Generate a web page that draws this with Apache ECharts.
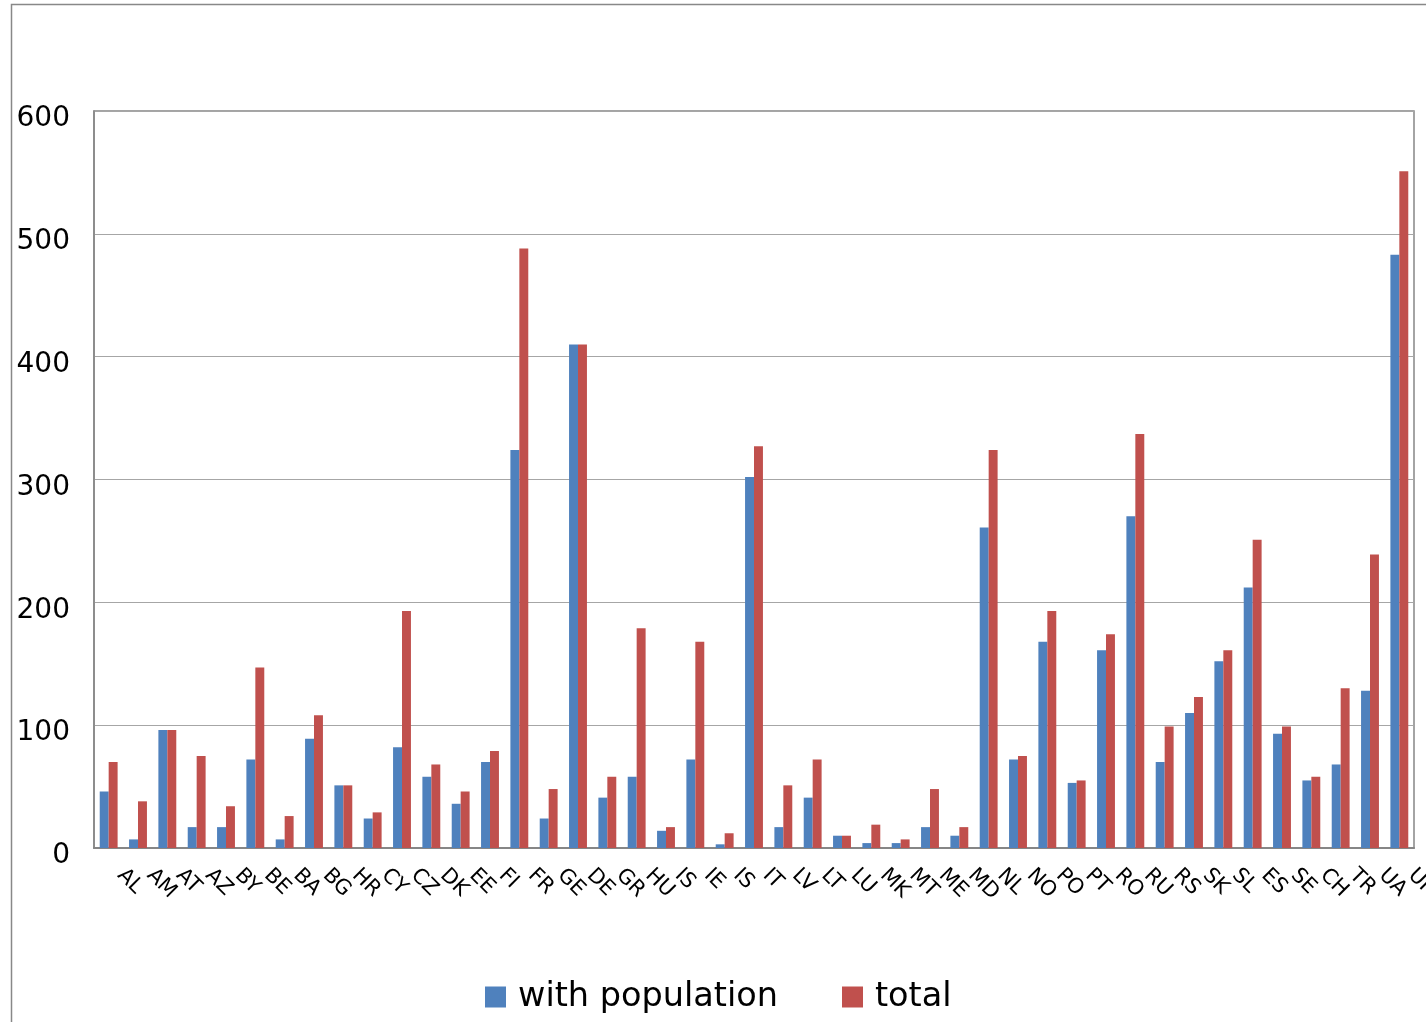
<!DOCTYPE html>
<html>
<head>
<meta charset="utf-8">
<script src="https://cdn.jsdelivr.net/npm/echarts@6/dist/echarts.min.js"></script>
<style>
html,body{margin:0;padding:0;background:#fff;}
#chart{width:1426px;height:1022px;}
</style>
</head>
<body>
<div id="chart"></div>
<script>
var categories = ["AL","AM","AT","AZ","BY","BE","BA","BG","HR","CY","CZ","DK","EE","FI","FR","GE","DE","GR","HU","IS","IE","IS","IT","LV","LT","LU","MK","MT","ME","MD","NL","NO","PO","PT","RO","RU","RS","SK","SL","ES","SE","CH","TR","UA","UK"];
var withPopulation = [46,7,96,17,17,72,7,89,51,24,82,58,36,70,324,24,410,41,58,14,72,3,302,17,41,10,4,4,17,10,261,72,168,53,161,270,70,110,152,212,93,55,68,128,483];
var total = [70,38,96,75,34,147,26,108,51,29,193,68,46,79,488,48,410,58,179,17,168,12,327,51,72,10,19,7,48,17,324,75,193,55,174,337,99,123,161,251,99,58,130,239,551];
var yMin = 0, yMax = 600, yStep = 100;

var chart = echarts.init(document.getElementById('chart'));
chart.setOption({
  backgroundColor: '#ffffff',
  animation: false,
  graphic: [{
    type: 'rect',
    left: 9, top: 2,
    shape: {width: 1500, height: 1100},
    style: {fill: 'none', stroke: '#888888', lineWidth: 1.5},
    silent: true
  }],
  legend: {
    left: 480, top: 975,
    icon: 'rect',
    itemWidth: 21, itemHeight: 21,
    itemGap: 64,
    textStyle: {fontFamily: 'DejaVu Sans', fontSize: 33.5, color: '#000', padding: [0, 0, 0, 7]},
    data: ['with population', 'total']
  },
  grid: {
    left: 94, right: 12, top: 111, bottom: 174,
    show: true, borderColor: '#868686', borderWidth: 1.5,
    containLabel: false,
    outerBoundsMode: 'none'
  },
  xAxis: {
    type: 'category',
    data: categories,
    axisLine: {show: true, lineStyle: {color: '#868686', width: 2}},
    axisTick: {show: false},
    axisLabel: {interval: 0, rotate: -45, margin: 12, padding: [0, 0, 0, 17], fontFamily: 'DejaVu Sans', fontSize: 21, color: '#000', hideOverlap: false}
  },
  yAxis: {
    type: 'value',
    min: yMin, max: yMax, interval: yStep,
    axisLine: {show: true, lineStyle: {color: '#868686', width: 1.5}},
    axisTick: {show: false},
    splitLine: {lineStyle: {color: '#a6a6a6', width: 1}},
    axisLabel: {margin: 24, verticalAlign: 'top', lineHeight: 16, fontFamily: 'DejaVu Sans', fontSize: 28, color: '#000'}
  },
  series: [
    {name: 'with population', type: 'bar', data: withPopulation, barGap: '0%', barCategoryGap: '39%', itemStyle: {color: '#4F81BD'}},
    {name: 'total', type: 'bar', data: total, barGap: '0%', barCategoryGap: '39%', itemStyle: {color: '#C0504D'}}
  ]
});
</script>
</body>
</html>
